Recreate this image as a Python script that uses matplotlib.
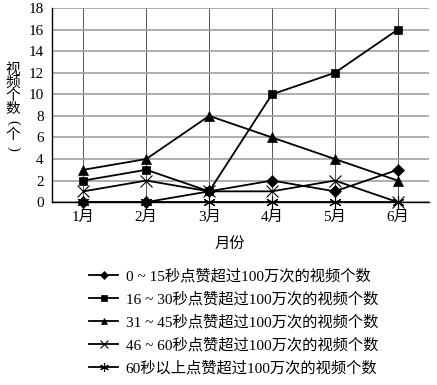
import matplotlib
matplotlib.use('Agg')
import matplotlib.pyplot as plt

plt.rcParams['font.family'] = ['Liberation Serif', 'Noto Sans CJK SC']
plt.rcParams['axes.unicode_minus'] = False

months = ['1月', '2月', '3月', '4月', '5月', '6月']
s_0_15 = [0, 0, 1, 2, 1, 3]
s_16_30 = [2, 3, 1, 10, 12, 16]
s_31_45 = [3, 4, 8, 6, 4, 2]
s_46_60 = [1, 2, 1, 1, 2, 0]
s_60_up = [0, 0, 0, 0, 0, 0]
labels = ['0 ~ 15秒点赞超过100万次的视频个数',
          '16 ~ 30秒点赞超过100万次的视频个数',
          '31 ~ 45秒点赞超过100万次的视频个数',
          '46 ~ 60秒点赞超过100万次的视频个数',
          '60秒以上点赞超过100万次的视频个数']

W, H = 437, 385
fig = plt.figure(figsize=(W / 100, H / 100), dpi=100)
ax = fig.add_axes([0.119, 0.475, 0.863, 0.504])

x = list(range(1, len(months) + 1))
series = [s_0_15, s_16_30, s_31_45, s_46_60, s_60_up]
markers = ['D', 's', '^', 'x', (6, 2, 0)]
sizes = [6, 6, 7, 8, 9]
handles = []
for ys, m, ms, lab in zip(series, markers, sizes, labels):
    h, = ax.plot(x, ys, color='black', lw=1.3, marker=m, markersize=ms,
                 markeredgewidth=0.8 if m in ('x', (6, 2, 0)) else 0.5,
                 label=lab, clip_on=False, zorder=3)
    handles.append(h)

ax.set_xlim(0.5, 6.5)
ax.set_ylim(0, 18)
ax.set_yticks(range(0, 19, 2))
ax.set_xticks(x)
ax.set_xticklabels(months)
ax.grid(axis='y', color='#a0a0a0', lw=1.2)
ax.grid(axis='x', color='#555555', lw=0.7)
ax.set_axisbelow(True)
for sp in ['top', 'right']:
    ax.spines[sp].set_visible(False)
ax.spines['left'].set_linewidth(1.0)
ax.spines['bottom'].set_linewidth(1.0)
ax.tick_params(length=0, labelsize=11, pad=6)

# 竖排 y 轴标题
ylab = ['视', '频', '个', '数', '(', '个', ')']
for i, ch in enumerate(ylab):
    rot = -90 if ch in '()' else 0
    fig.text(13 / W, 1 - (70 + 13 * i) / H, ch, fontsize=10.5, rotation=rot,
             ha='center', va='center')
fig.text(0.525, 0.365, '月份', fontsize=11, ha='center', va='center')

fig.legend(handles=handles, loc='upper left', bbox_to_anchor=(0.19, 0.318),
           frameon=False, fontsize=11, handlelength=1.9, labelspacing=0.55,
           handletextpad=0.5, borderaxespad=0, markerscale=0.7)

fig.savefig('out.png', dpi=100)
